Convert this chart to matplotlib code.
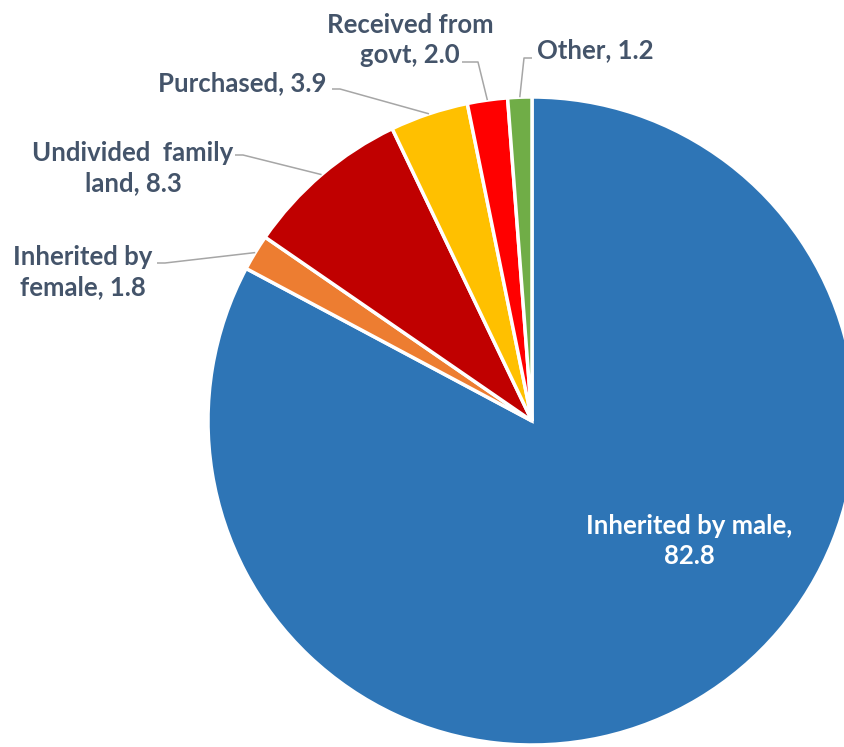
import numpy as np
import matplotlib.pyplot as plt

# land acquisition shares (%)
labels = ["Inherited by male", "Inherited by female", "Undivided family land",
          "Purchased", "Received from govt", "Other"]
values = [82.8, 1.8, 8.3, 3.9, 2.0, 1.2]
colors = ["#2E75B6", "#ED7D31", "#C00000", "#FFC000", "#FF0000", "#70AD47"]
label_text = ["Inherited by male,\n82.8", "Inherited by\nfemale, 1.8",
              "Undivided  family\nland, 8.3", "Purchased, 3.9",
              "Received from\ngovt, 2.0", "Other, 1.2"]

W, H = 845, 747
plt.rcParams['font.family'] = ['Lato', 'DejaVu Sans']

fig = plt.figure(figsize=(W / 100, H / 100), dpi=100)
ax = fig.add_axes([0, 0, 1, 1])

cx, cy, r = 532, H - 421, 324
wedges, _ = ax.pie(values, colors=colors, startangle=90, counterclock=False,
                   center=(cx, cy), radius=r, frame=True,
                   wedgeprops=dict(edgecolor='white', linewidth=2.5))
ax.set_xlim(0, W)
ax.set_ylim(0, H)
ax.set_aspect('equal')
ax.axis('off')

txt_col = "#44546A"
fs = 18.5
# label placement: (x, y in pixels from top, leader anchor x, anchor y, horizontal step)
place = {
    1: (83, 272, 157, 263, 8),
    2: (133, 168, 235, 155, 8),
    3: (242, 83, 332, 89, 8),
    4: (410, 40, 462, 62, 16),
    5: (595, 50, 532, 58, -8),
}

for i, w in enumerate(wedges):
    if i == 0:
        ax.text(689, H - 541, label_text[i], color='white', fontsize=fs,
                fontweight='bold', ha='center', va='center', linespacing=1.3)
        continue
    tx, ty, ax0, ay0, step = place[i]
    ax.text(tx, H - ty, label_text[i], color=txt_col, fontsize=fs,
            fontweight='bold', ha='center', va='center', linespacing=1.3)
    mid = np.deg2rad((w.theta1 + w.theta2) / 2)
    px = cx + r * np.cos(mid)
    py = cy + r * np.sin(mid)
    ax.plot([ax0, ax0 + step, px], [H - ay0, H - ay0, py],
            color='#A6A6A6', lw=1.1, solid_capstyle='butt')

fig.savefig("out.png", dpi=100)
